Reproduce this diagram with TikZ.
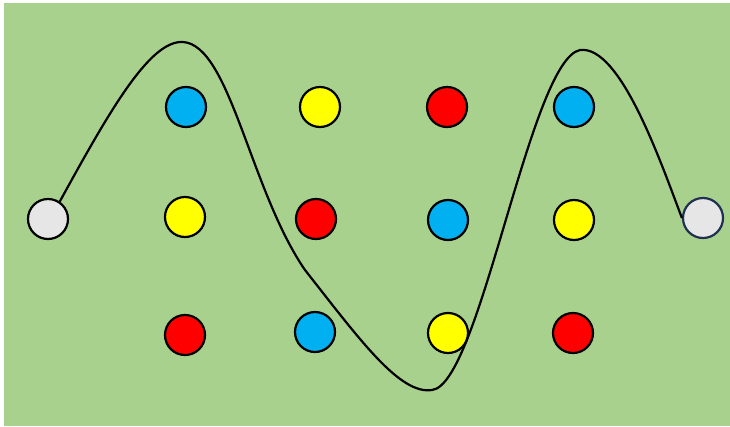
\documentclass[tikz,border=0pt]{standalone}
\definecolor{bgGreen}{RGB}{169,209,142}
\definecolor{dotBlue}{RGB}{0,176,240}
\definecolor{dotYellow}{RGB}{255,255,0}
\definecolor{dotRed}{RGB}{255,0,0}
\definecolor{dotGray}{RGB}{231,230,230}
\definecolor{edgeNavy}{RGB}{31,48,80}

\begin{document}
\begin{tikzpicture}[x=1pt, y=-1pt]
            \tikzset{dot/.style={circle, draw, line width=2.2pt, minimum size=40pt, inner sep=0pt}}

            \useasboundingbox (0,0) rectangle (730,426);
            \fill[bgGreen] (4,3) rectangle (730,426);

            \node[dot, fill=dotGray] (start) at (48,219) {};
            \node[dot, fill=dotGray, draw=edgeNavy] (goal) at (703,218) {};

            \node[dot, fill=dotBlue] (b1) at (186,107) {};
            \node[dot, fill=dotYellow] (y1) at (320,107) {};
            \node[dot, fill=dotRed] (r1) at (447,107) {};
            \node[dot, fill=dotBlue] (b2) at (574,107) {};

            \node[dot, fill=dotYellow] (y2) at (185,217) {};
            \node[dot, fill=dotRed] (r2) at (316,219) {};
            \node[dot, fill=dotBlue] (b3) at (448,220) {};
            \node[dot, fill=dotYellow] (y3) at (574,220) {};

            \node[dot, fill=dotRed] (r3) at (185,335) {};
            \node[dot, fill=dotBlue] (b4) at (315,332) {};
            \node[dot, fill=dotYellow] (y4) at (448,333) {};
            \node[dot, fill=dotRed] (r4) at (573,333) {};

            \draw[line width=2.2pt] (start.56) .. controls (110,110) and (150,40) .. (183,42)
                .. controls (230,45) and (250,190) .. (305,270)
                .. controls (360,340) and (400,395) .. (432,390)
                .. controls (480,385) and (530,60) .. (580,50)
                .. controls (620,45) and (660,160) .. (goal.west);
        \end{tikzpicture}
\end{document}
